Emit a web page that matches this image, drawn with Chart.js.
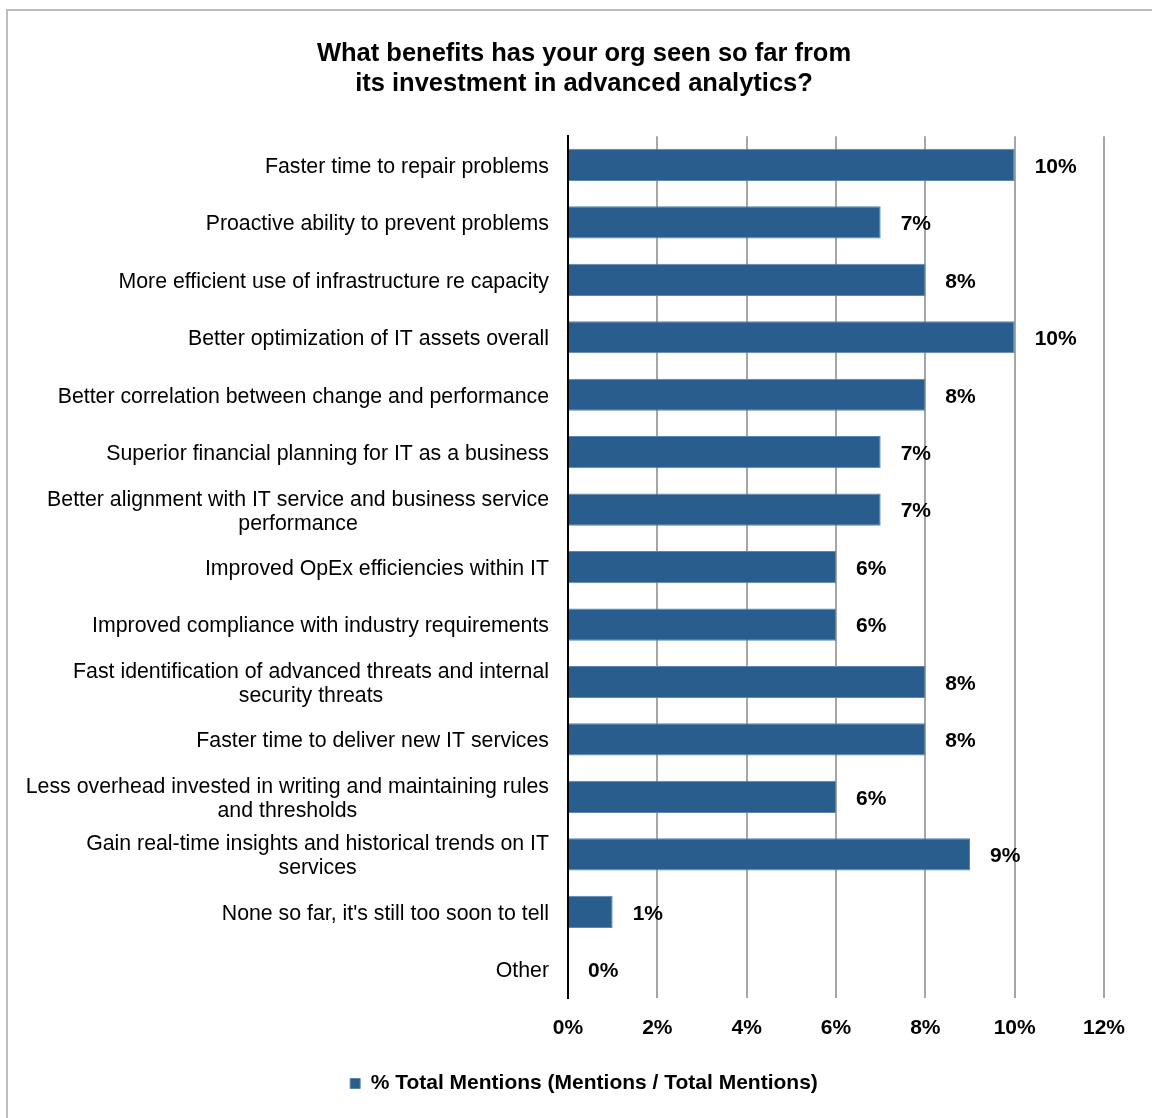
<!DOCTYPE html>
<html>
<head>
<meta charset="utf-8">
<script src="https://cdn.jsdelivr.net/npm/chart.js@4"></script>
<style>
html,body{margin:0;padding:0;background:#fff;}
#wrap{position:relative;width:1152px;height:1118px;overflow:hidden;}
#frame{position:absolute;left:6px;top:9px;width:1200px;height:1200px;border-left:2px solid #BEBEBE;border-top:2px solid #BEBEBE;}
canvas{position:absolute;left:0;top:0;}
</style>
</head>
<body>
<div id="wrap"><div id="frame"></div><canvas id="c" width="1152" height="1118"></canvas></div>
<script>
const titleLines = ["What benefits has your org seen so far from", "its investment in advanced analytics?"];
const categories = [
  ["Faster time to repair problems"],
  ["Proactive ability to prevent problems"],
  ["More efficient use of infrastructure re capacity"],
  ["Better optimization of IT assets overall"],
  ["Better correlation between change and performance"],
  ["Superior financial planning for IT as a business"],
  ["Better alignment with IT service and business service", "performance"],
  ["Improved OpEx efficiencies within IT"],
  ["Improved compliance with industry requirements"],
  ["Fast identification of advanced threats and internal", "security threats"],
  ["Faster time to deliver new IT services"],
  ["Less overhead invested in writing and maintaining rules", "and thresholds"],
  ["Gain real-time insights and historical trends on IT", "services"],
  ["None so far, it's still too soon to tell"],
  ["Other"]
];
const values = [10, 7, 8, 10, 8, 7, 7, 6, 6, 8, 8, 6, 9, 1, 0];
const seriesName = "% Total Mentions (Mentions / Total Mentions)";
const xTicks = [0, 2, 4, 6, 8, 10, 12];

const FONT = "'Liberation Sans', Arial, sans-serif";

const labelPlugin = {
  id: 'customLabels',
  afterDatasetsDraw(chart) {
    const ctx = chart.ctx;
    const meta = chart.getDatasetMeta(0);
    const yScale = chart.scales.y;
    ctx.save();
    // value labels
    ctx.font = "bold 21px " + FONT;
    ctx.fillStyle = "#000";
    ctx.textAlign = "left";
    ctx.textBaseline = "middle";
    meta.data.forEach((bar, i) => {
      ctx.fillText(Math.round(values[i]) + "%", bar.x + 20, bar.y + 2);
    });
    // category labels: block right-aligned, lines centered
    ctx.font = "21.3px " + FONT;
    ctx.textAlign = "center";
    const rightEdge = yScale.right - 19;
    categories.forEach((lines, i) => {
      const yc = yScale.getPixelForValue(i) + 2;
      const widths = lines.map(l => ctx.measureText(l).width);
      const bw = Math.max(...widths);
      const cx = rightEdge - bw / 2;
      const lh = 24;
      const y0 = yc - (lines.length - 1) * lh / 2;
      lines.forEach((l, k) => ctx.fillText(l, cx, y0 + k * lh));
    });
    ctx.restore();
  }
};

new Chart(document.getElementById('c'), {
  type: 'bar',
  data: {
    labels: categories,
    datasets: [{
      label: seriesName,
      data: values,
      backgroundColor: '#285D8D',
      borderColor: '#5A86B4',
      borderWidth: 1,
      barPercentage: 0.56,
      categoryPercentage: 1.0
    }]
  },
  options: {
    indexAxis: 'y',
    responsive: false,
    animation: false,
    layout: { padding: { left: 64, right: 48, top: 0, bottom: 14 } },
    scales: {
      x: {
        min: 0, max: 12,
        afterBuildTicks(scale) { scale.ticks = xTicks.map(v => ({ value: v })); },
        ticks: {
          callback: v => v + '%',
          font: { family: FONT, size: 21, weight: 'bold' },
          color: '#000',
          padding: 18
        },
        grid: { color: '#A6A6A6', lineWidth: 2, drawTicks: false },
        border: { display: false },
        afterFit(scale) { scale.height = 65; }
      },
      y: {
        ticks: { display: false },
        grid: { display: false, drawTicks: false },
        border: { display: true, color: '#000', width: 2 },
        afterFit(scale) { scale.width = 504; }
      }
    },
    plugins: {
      title: {
        display: true,
        text: titleLines,
        font: { family: FONT, size: 25.5, weight: 'bold', lineHeight: 1.18 },
        color: '#000',
        padding: { top: 39, bottom: 37 }
      },
      legend: {
        position: 'bottom',
        labels: {
          font: { family: FONT, size: 21, weight: 'bold' },
          color: '#000',
          boxWidth: 10,
          boxHeight: 10,
          padding: 10
        }
      },
      tooltip: { enabled: false }
    }
  },
  plugins: [labelPlugin]
});
</script>
</body>
</html>
